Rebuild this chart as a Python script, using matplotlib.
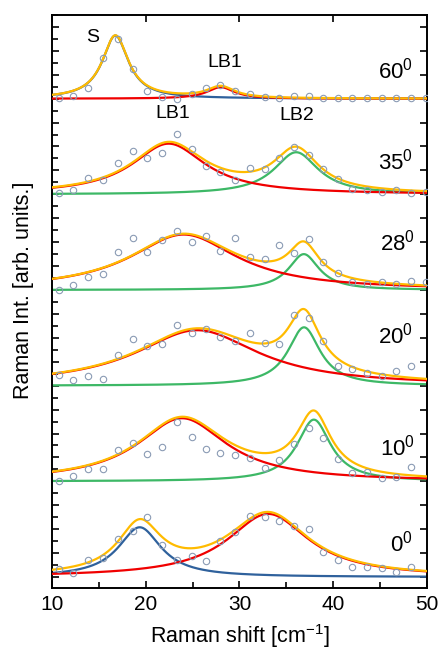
import numpy as np
import matplotlib.pyplot as plt
from matplotlib.ticker import MultipleLocator

plt.rcParams['font.family'] = ['Liberation Sans', 'DejaVu Sans']
plt.rcParams['mathtext.fontset'] = 'custom'
plt.rcParams['mathtext.rm'] = 'Liberation Sans'

# pontos medidos (mesmo eixo x para todos os angulos)
shift = [10.72, 12.24, 13.85, 15.42, 16.99, 18.59, 20.09, 21.72, 23.29, 24.89,
         26.39, 27.95, 29.52, 31.12, 32.69, 34.25, 35.82, 37.39, 38.95, 40.49,
         42.05, 43.62, 45.19, 46.75, 48.32, 49.89]

angulos = ['0', '10', '20', '28', '35', '60']

int_0 = [0.08, 0.04, 0.18, 0.20, 0.40, 0.48, 0.63, 0.33, 0.18, 0.22, 0.17, 0.38, 0.47,
         0.64, 0.63, 0.59, 0.53, 0.50, 0.26, 0.18, 0.11, 0.11, 0.09, 0.05, 0.10, np.nan]
int_10 = [0.00, 0.06, 0.13, 0.13, 0.33, 0.40, 0.29, 0.36, 0.62, 0.46, 0.34, 0.30, 0.28,
          0.24, 0.14, 0.22, 0.39, 0.56, 0.45, 0.23, 0.09, 0.10, 0.03, 0.05, 0.15, np.nan]
int_20 = [0.11, 0.06, 0.10, 0.07, 0.32, 0.49, 0.41, 0.44, 0.63, 0.55, 0.59, 0.51, 0.47,
          0.55, 0.45, 0.44, 0.74, 0.71, 0.47, 0.21, 0.17, 0.13, 0.10, 0.15, 0.21, np.nan]
int_28 = [0.00, 0.05, 0.14, 0.17, 0.40, 0.54, 0.40, 0.52, 0.62, 0.50, 0.56, 0.41, 0.54,
          0.34, 0.32, 0.47, 0.39, 0.53, 0.29, 0.18, 0.08, 0.06, 0.08, 0.06, 0.09, 0.08]
int_35 = [0.01, 0.05, 0.17, 0.15, 0.33, 0.45, 0.38, 0.43, 0.63, 0.47, 0.30, 0.23, 0.15,
          0.28, 0.26, 0.38, 0.49, 0.41, 0.27, 0.16, 0.06, 0.05, 0.02, 0.05, 0.01, 0.02]
int_60 = [0.01, 0.03, 0.11, 0.43, 0.62, 0.31, 0.08, 0.02, 0.00, 0.05, 0.11, 0.14, 0.08,
          0.05, 0.02, 0.01, 0.03, 0.03, 0.01, 0.01, 0.01, 0.01, 0.01, 0.01, 0.01, 0.01]
intensidades = [int_0, int_10, int_20, int_28, int_35, int_60]

# ajustes lorentzianos: (centro, meia largura, amplitude)
pico_S = {'0': (19.34, 2.8, 0.52), '60': (16.74, 1.7, 0.66)}
pico_LB1 = {'0': (33.07, 5.3, 0.66), '10': (23.87, 5.8, 0.66), '20': (25.47, 8.0, 0.58),
            '28': (24.04, 7.0, 0.58), '35': (22.44, 4.8, 0.53), '60': (28.0, 1.8, 0.12)}
pico_LB2 = {'10': (37.95, 2.2, 0.645), '20': (36.9, 2.1, 0.61), '28': (36.88, 2.0, 0.375),
            '35': (36.06, 2.9, 0.44)}

deslocamento = 1.0


def lorentz(x, x0, gamma, amp):
    return amp * gamma**2 / ((x - x0)**2 + gamma**2)


fig = plt.figure(figsize=(4.38, 6.5), dpi=100)
ax = fig.add_axes([0.1194, 0.0949, 0.8546, 0.8821])

x = np.linspace(10, 50, 800)
for k in range(len(angulos)):
    ang = angulos[k]
    base = k * deslocamento
    total = np.zeros_like(x)
    if ang in pico_S:
        y = lorentz(x, *pico_S[ang])
        total += y
        ax.plot(x, y + base, color='#2F619C', lw=1.6, zorder=2)
    if ang in pico_LB2:
        y = lorentz(x, *pico_LB2[ang])
        total += y
        ax.plot(x, y + base, color='#3DB866', lw=1.6, zorder=2)
    y = lorentz(x, *pico_LB1[ang])
    total += y
    ax.plot(x, y + base, color='#F00000', lw=1.6, zorder=3)
    ax.plot(x, total + base, color='#FFBB00', lw=1.6, zorder=4)
    ax.plot(shift, np.array(intensidades[k]) + base, 'o', mfc='none', mec='#8A9BB4',
            ms=4.6, mew=0.8, zorder=5)

# rotulos dos angulos
pos_angulo = [(46.1, 0.272), (45.0, 1.273), (44.8, 2.441), (45.0, 3.41), (44.8, 4.262), (44.8, 5.206)]
for k in range(len(angulos)):
    ax.text(pos_angulo[k][0], pos_angulo[k][1], r'$\mathregular{%s^0}$' % angulos[k],
            fontsize=16, ha='left', va='baseline')

ax.text(14.35, 5.635, 'S', fontsize=14, ha='center', va='center')
ax.text(28.4, 5.38, 'LB1', fontsize=14, ha='center', va='center')
ax.text(22.9, 4.84, 'LB1', fontsize=14, ha='center', va='center')
ax.text(36.15, 4.82, 'LB2', fontsize=14, ha='center', va='center')

ax.set_xlim(10, 50)
ax.set_ylim(-0.118, 5.875)
ax.xaxis.set_major_locator(MultipleLocator(10))
ax.xaxis.set_minor_locator(MultipleLocator(5))
ax.yaxis.set_major_locator(MultipleLocator(0.25))
ax.yaxis.set_minor_locator(MultipleLocator(0.125))
ax.tick_params(which='major', direction='in', length=5, width=1.2, top=True, right=True,
               labelsize=15, pad=5)
ax.tick_params(which='minor', direction='in', length=4, width=1.2, left=True, bottom=True, top=False, right=False)
ax.tick_params(axis='y', labelleft=False)
for s in ax.spines.values():
    s.set_linewidth(1.4)

ax.set_xlabel(r'Raman shift [cm$^{-1}$]', fontsize=15.5, labelpad=6)
ax.set_ylabel('Raman Int. [arb. units.]', fontsize=15.5)
ax.yaxis.set_label_coords(-0.05, 0.52)

plt.savefig('out.png', dpi=100)
